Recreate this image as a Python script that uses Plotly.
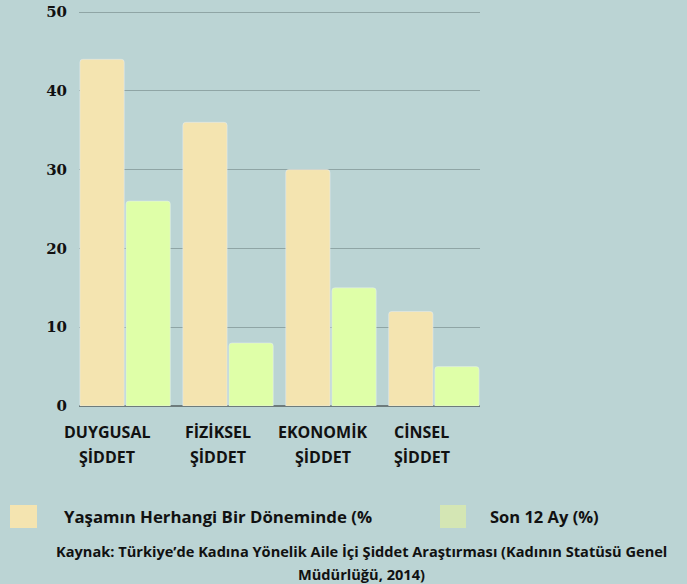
import plotly.graph_objects as go

categories = ["DUYGUSAL<br>ŞİDDET", "FİZİKSEL<br>ŞİDDET", "EKONOMİK<br>ŞİDDET", "CİNSEL<br>ŞİDDET"]
series_names = ["Yaşamın Herhangi Bir Döneminde (%", "Son 12 Ay (%)"]
lifetime = [44, 36, 30, 12]
last12 = [26, 8, 15, 5]
y_ticks = [0, 10, 20, 30, 40, 50]
source_lines = ["Kaynak: Türkiye’de Kadına Yönelik Aile İçi Şiddet Araştırması (Kadının Statüsü Genel",
                "Müdürlüğü, 2014)"]

# layout / style constants
label_xshift = [-18, -10, -8, -12]
BG = "#BBD4D4"
BEIGE = "#F4E4B0"
GREEN = "#DFFFA8"
LEG_GREEN = "#D4E6B4"
SANS = "Open Sans"
SERIF = "DejaVu Serif"
INK = "#111111"

L, R, T, B = 79, 207, 10, 178
W, H = 687, 584
plot_w = W - L - R
plot_h = H - T - B
y_top = 50 * plot_h / (H - B - 12)

def pxx(p):
    return (p - L) / plot_w

def pxy(p):
    return (H - B - p) / plot_h

fig = go.Figure()
fig.add_trace(go.Bar(x=categories, y=lifetime, name=series_names[0], marker_color=BEIGE, showlegend=False))
fig.add_trace(go.Bar(x=categories, y=last12, name=series_names[1], marker_color=GREEN, showlegend=False))

fig.update_layout(
    width=W, height=H,
    paper_bgcolor=BG, plot_bgcolor=BG,
    margin=dict(l=L, r=R, t=T, b=B, autoexpand=False),
    barmode="group", bargap=0.104, bargroupgap=0.04, barcornerradius=3,
    xaxis=dict(range=[-0.448, 3.448], showticklabels=False, showgrid=False, zeroline=False,
               showline=False, automargin=False),
    yaxis=dict(range=[0, y_top], tickvals=y_ticks, showgrid=True, gridcolor="#8FA5A5", gridwidth=1,
               zeroline=True, zerolinecolor="#6E7C7C", zerolinewidth=2,
               tickfont=dict(family=SERIF, size=15, color=INK, weight="bold"),
               ticks="", ticklabelstandoff=11, showline=False, automargin=False),
)

# category labels (two lines each)
for c, dx in zip(categories, label_xshift):
    top, bottom = c.split("<br>")
    fig.add_annotation(x=c, y=0, xref="x", yref="y", text=top, showarrow=False,
                       yanchor="middle", yshift=-26, xshift=dx,
                       font=dict(family=SANS, size=16, color=INK, weight="bold"))
    fig.add_annotation(x=c, y=0, xref="x", yref="y", text=bottom, showarrow=False,
                       yanchor="middle", yshift=-51, xshift=dx,
                       font=dict(family=SANS, size=16, color=INK, weight="bold"))

# legend built from shapes + annotations
fig.add_shape(type="rect", xref="paper", yref="paper", x0=pxx(10), x1=pxx(37), y0=pxy(528), y1=pxy(505),
              line_width=0, fillcolor=BEIGE)
fig.add_shape(type="rect", xref="paper", yref="paper", x0=pxx(440), x1=pxx(466), y0=pxy(528), y1=pxy(505),
              line_width=0, fillcolor=LEG_GREEN)
fig.add_annotation(xref="paper", yref="paper", x=pxx(62), y=pxy(516), text=series_names[0], showarrow=False,
                   xanchor="left", yanchor="middle", font=dict(family=SANS, size=16.8, color=INK, weight="bold"))
fig.add_annotation(xref="paper", yref="paper", x=pxx(488), y=pxy(516), text=series_names[1], showarrow=False,
                   xanchor="left", yanchor="middle", font=dict(family=SANS, size=16.5, color=INK, weight="bold"))
for i, line in enumerate(source_lines):
    fig.add_annotation(xref="paper", yref="paper", x=pxx(361), y=pxy(551 + 23 * i), text=line, showarrow=False,
                       xanchor="center", yanchor="middle",
                       font=dict(family=SANS, size=14.6, color=INK, weight="bold"))

fig.write_html("out.html", config={"displayModeBar": False})

with open("out.html", encoding="utf-8") as f:
    html = f.read()
html = html.replace("<body>", '<body style="margin:0;padding:0;background:%s">' % BG, 1)
with open("out.html", "w", encoding="utf-8") as f:
    f.write(html)
